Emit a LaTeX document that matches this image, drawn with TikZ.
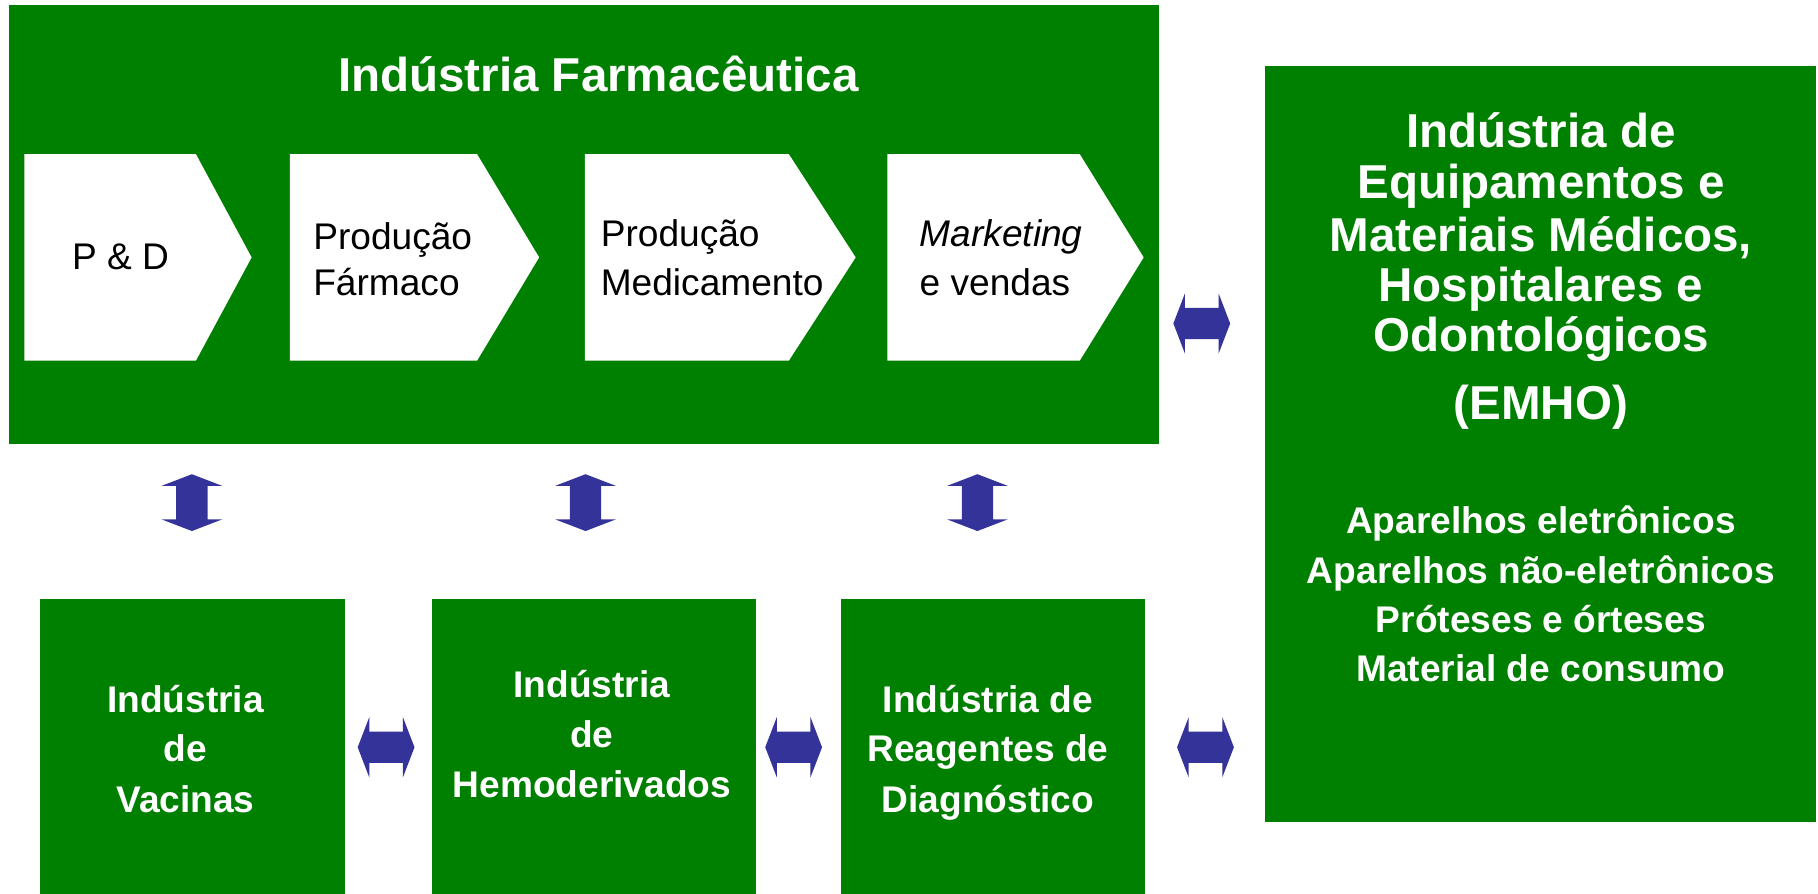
\documentclass[tikz,border=0pt]{standalone}
\usepackage{fontspec}
\setmainfont{Liberation Sans}
\definecolor{bgreen}{RGB}{0,128,0}
\definecolor{ablue}{RGB}{51,51,153}
\tikzset{
  gbox/.style={fill=bgreen, draw=none, inner sep=0pt, anchor=north west},
  chev/.style={fill=white, draw=none},
  wbig/.style={text=white, font=\bfseries\fontsize{41}{44}\selectfont, inner sep=0pt, anchor=base},
  wsmall/.style={text=white, font=\bfseries\fontsize{32}{43}\selectfont, inner sep=0pt, anchor=base},
  btext/.style={text=black, font=\fontsize{32}{40}\selectfont, inner sep=0pt, anchor=base west},
  harrow/.pic={\fill[ablue] (-24.5,0) -- (-14.5,-26) -- (-14.5,-13.5) -- (14.5,-13.5) -- (14.5,-26) -- (24.5,0) -- (14.5,26) -- (14.5,13.5) -- (-14.5,13.5) -- (-14.5,26) -- cycle;},
  varrow/.pic={\fill[ablue] (0,-24.5) -- (-26,-14.5) -- (-13.5,-14.5) -- (-13.5,14.5) -- (-26,14.5) -- (0,24.5) -- (26,14.5) -- (13.5,14.5) -- (13.5,-14.5) -- (26,-14.5) -- cycle;}
}
\begin{document}
\begin{tikzpicture}[x=1pt,y=-1pt]
\useasboundingbox (0,0) rectangle (1568,771);
\fill[white] (0,0) rectangle (1568,771);
% top box
\node[gbox, minimum width=992.3pt, minimum height=378.6pt] (farma) at (7.3,4) {};
\node[wbig] (title) at (516,78.5) {Indústria Farmacêutica};
% chevrons
\fill[chev] (21,133) -- (169,133) -- (217,222) -- (169,311) -- (21,311) -- cycle;
\fill[chev] (250,133) -- (411.5,133) -- (465,222) -- (411.5,311) -- (250,311) -- cycle;
\fill[chev] (504.5,133) -- (680.4,133) -- (738,222) -- (680.4,311) -- (504.5,311) -- cycle;
\fill[chev] (765.3,133) -- (931.3,133) -- (986.4,222) -- (931.3,311) -- (765.3,311) -- cycle;
\node[btext] (pd) at (62,232.5) {P \& D};
\node[btext] (pf1) at (270,215.5) {Produção};
\node[btext] (pf2) at (270,254.5) {Fármaco};
\node[btext] (pm1) at (518,212.5) {Produção};
\node[btext] (pm2) at (518,255) {Medicamento};
\node[btext] (mk1) at (793,212.5) {\itshape Marketing};
\node[btext] (mk2) at (793,255) {e vendas};
% EMHO box
\node[gbox, minimum width=475pt, minimum height=652pt] (emho) at (1091,57) {};
\node[wbig] (e1) at (1329,127.4) {Indústria de};
\node[wbig] (e2) at (1329,171) {Equipamentos e};
\node[wbig] (e3) at (1329,216.5) {Materiais Médicos,};
\node[wbig] (e4) at (1329,260) {Hospitalares e};
\node[wbig] (e5) at (1329,303.5) {Odontológicos};
\node[wbig] (e6) at (1329,362) {(EMHO)};
\node[wsmall] (i1) at (1329,460) {Aparelhos eletrônicos};
\node[wsmall] (i2) at (1329,503) {Aparelhos não-eletrônicos};
\node[wsmall] (i3) at (1329,545.5) {Próteses e órteses};
\node[wsmall] (i4) at (1329,588) {Material de consumo};
% bottom boxes
\node[gbox, minimum width=263.5pt, minimum height=260pt] (vac) at (34,516.5) {};
\node[gbox, minimum width=280pt, minimum height=260pt] (hemo) at (372,516.5) {};
\node[gbox, minimum width=262.6pt, minimum height=260pt] (reag) at (725,516.5) {};
\node[wsmall] (v1) at (160,614.5) {Indústria};
\node[wsmall] (v2) at (160,657) {de};
\node[wsmall] (v3) at (160,700.5) {Vacinas};
\node[wsmall] (h1) at (510.5,601.5) {Indústria};
\node[wsmall] (h2) at (510.5,645) {de};
\node[wsmall] (h3) at (510.5,687.5) {Hemoderivados};
\node[wsmall] (r1) at (852,614.5) {Indústria de};
\node[wsmall] (r2) at (852,657) {Reagentes de};
\node[wsmall] (r3) at (852,700.5) {Diagnóstico};
% double arrows
\pic (a1) at (1036.5,279) {harrow};
\pic (a2) at (165.5,433.5) {varrow};
\pic (a3) at (505,433.5) {varrow};
\pic (a4) at (843,433.5) {varrow};
\pic (a5) at (333,644.5) {harrow};
\pic (a6) at (684.5,644.5) {harrow};
\pic (a7) at (1039.7,644.5) {harrow};
\end{tikzpicture}
\end{document}
